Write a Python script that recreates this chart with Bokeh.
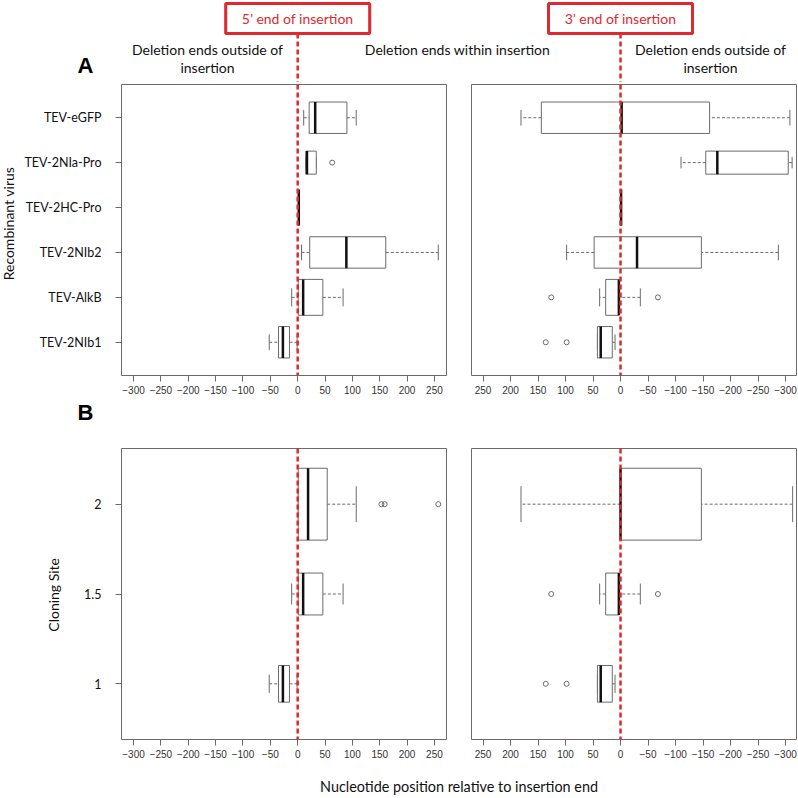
import math
import numpy as np
from bokeh.plotting import figure
from bokeh.layouts import column, row
from bokeh.models import Range1d, FixedTicker, Span, Label, ColumnDataSource, BoxAnnotation
from bokeh.embed import file_html
from bokeh.resources import INLINE

# ---------------- data ----------------
virus_names = ["TEV-2NIb1", "TEV-AlkB", "TEV-2NIb2", "TEV-2HC-Pro", "TEV-2NIa-Pro", "TEV-eGFP"]
virus_pos = [1, 2, 3, 4, 5, 6]
virus_n = [13, 17, 13, 17, 7, 13]

# 5' end panel (A): lower whisker, Q1, median, Q3, upper whisker
a5_lo = [-52, -11, 7, 2, 15, 11]
a5_q1 = [-35, 1, 22, 2, 15, 21]
a5_med = [-27, 10, 89, 2, 17, 32]
a5_q3 = [-15, 46, 161, 2, 34, 90]
a5_hi = [-1, 83, 257, 2, 34, 107]
a5_out_pos = [5]
a5_out_val = [63]

# 3' end panel (A)
a3_lo = [10, -36, -287, -1, -312, -308]
a3_q1 = [15, 3, -147, -1, -305, -162]
a3_med = [36, 3, -30, -1, -176, -2]
a3_q3 = [42, 27, 48, -1, -155, 144]
a3_hi = [42, 38, 98, -1, -110, 181]
a3_out_pos = [1, 1, 2, 2]
a3_out_val = [98, 136, 126, -68]

site_pos = [1, 1.5, 2]
site_labels = ["1", "1.5", "2"]
site_n = [13, 17, 50]

b5_lo = [-52, -11, 1]
b5_q1 = [-35, 1, 1]
b5_med = [-27, 10, 19]
b5_q3 = [-15, 46, 54]
b5_hi = [-1, 83, 107]
b5_out_pos = [2, 2, 2]
b5_out_val = [153, 159, 257]

b3_lo = [10, -36, -313]
b3_q1 = [15, 3, -147]
b3_med = [36, 3, 0]
b3_q3 = [42, 27, 0]
b3_hi = [42, 38, 181]
b3_out_pos = [1, 1, 1.5, 1.5]
b3_out_val = [98, 136, 126, -68]

x_ticks = [-300, -250, -200, -150, -100, -50, 0, 50, 100, 150, 200, 250]

# ---------------- style / layout ----------------
RED = "#e0282e"
GRAY = "#6b6b6b"
TXT_FONT = "Lato"
TICK_FONT = "Liberation Sans"

X5_RANGE = (-322, 272)
X3_RANGE = (271, -320)
YA_RANGE = (0.26, 6.74)
YB_RANGE = (0.69, 2.31)

TOTAL_W = 797
HEADER_H, A_H, GAP_H, B_H, FOOT_H = 82, 316, 27, 340, 32
STRIP_A_W, STRIP_B_W = 18, 65
FRAME_L, FRAME_W = 121, 325
R_W = 339
L_END = TOTAL_W - R_W          # 458
A_BT, A_BB = 2, 23
B_BT, B_BB = 23, 26


def add_boxes(p, pos, lo, q1, med, q3, hi, widths, out_pos, out_val):
    pos = np.array(pos, float)
    w = np.array(widths, float)
    src = ColumnDataSource(dict(
        y=pos, lo=lo, q1=q1, med=med, q3=q3, hi=hi, w=w,
        yb=pos - w / 2, yt=pos + w / 2, cb=pos - w / 4, ct=pos + w / 4))
    p.segment(x0="lo", x1="q1", y0="y", y1="y", source=src, line_color=GRAY,
              line_width=1, line_dash="3 2")
    p.segment(x0="q3", x1="hi", y0="y", y1="y", source=src, line_color=GRAY,
              line_width=1, line_dash="3 2")
    p.segment(x0="lo", x1="lo", y0="cb", y1="ct", source=src, line_color=GRAY, line_width=1)
    p.segment(x0="hi", x1="hi", y0="cb", y1="ct", source=src, line_color=GRAY, line_width=1)
    p.hbar(y="y", left="q1", right="q3", height="w", source=src, fill_color="white",
           line_color=GRAY, line_width=1)
    p.segment(x0="med", x1="med", y0="yb", y1="yt", source=src, line_color="#111111",
              line_width=2.5)
    if out_pos:
        p.scatter(x=out_val, y=out_pos, marker="circle", size=5, fill_color=None,
                  line_color=GRAY, line_width=1)


def make_panel(width, height, xr, yr, bl, br, bt, bb, yticks=None, ylabels=None):
    p = figure(width=width, height=height, x_range=Range1d(*xr), y_range=Range1d(*yr),
               output_backend="svg", toolbar_location=None, tools="",
               min_border_left=bl, min_border_right=br, min_border_top=bt,
               min_border_bottom=bb, background_fill_color="white",
               border_fill_color="white",
               y_axis_location="left" if yticks is not None else None)
    p.grid.visible = False
    p.outline_line_color = GRAY
    p.outline_line_width = 1
    ax = p.xaxis[0]
    ax.ticker = FixedTicker(ticks=x_ticks)
    ax.axis_line_color = None
    ax.major_tick_out = 6
    ax.major_tick_in = 0
    ax.major_tick_line_color = GRAY
    ax.minor_tick_line_color = None
    ax.major_label_text_font = TICK_FONT
    ax.major_label_text_font_size = "10px"
    ax.major_label_text_color = "#333333"
    ax.major_label_standoff = 4
    if yticks is not None:
        ay = p.yaxis[0]
        ay.ticker = FixedTicker(ticks=yticks)
        ay.axis_line_color = None
        ay.minor_tick_line_color = None
        ay.major_tick_line_color = GRAY
        ay.major_tick_in = 0
        ay.major_tick_out = 6
        ay.major_label_overrides = {t: l for t, l in zip(yticks, ylabels)}
        ay.major_label_text_font = TXT_FONT
        ay.major_label_text_font_size = "12.5px"
        ay.major_label_text_color = "#111111"
        ay.major_label_standoff = 14
    p.add_layout(Span(location=0, dimension="height", line_color=RED, line_width=2.5,
                      line_dash="5 3"))
    return p


def free_fig(x0, y0, w, h):
    f = figure(width=w, height=h, x_range=Range1d(x0, x0 + w), y_range=Range1d(y0 + h, y0),
               output_backend="svg", toolbar_location=None, tools="",
               x_axis_type=None, y_axis_type=None, min_border=0, outline_line_color=None,
               background_fill_color="white", border_fill_color="white")
    f.grid.visible = False
    return f


def text(f, x, y, t, size="14px", color="#111111", font=TXT_FONT, style="normal", angle=0):
    f.add_layout(Label(x=x, y=y, text=t, angle=angle, text_align="center",
                       text_baseline="middle", text_font=font, text_font_size=size,
                       text_color=color, text_font_style=style))


wa = [0.8 * math.sqrt(n / max(virus_n)) for n in virus_n]
wb = [0.4 * math.sqrt(n / max(site_n)) for n in site_n]

# page geometry
Y_A = HEADER_H
Y_GAP = Y_A + A_H
Y_B = Y_GAP + GAP_H
Y_F = Y_B + B_H
R_LEFT = L_END + 13

# panel A
pAL = make_panel(L_END - STRIP_A_W, A_H, X5_RANGE, YA_RANGE, FRAME_L - STRIP_A_W,
                 L_END - FRAME_L - FRAME_W, A_BT, A_BB, virus_pos, virus_names)
add_boxes(pAL, virus_pos, a5_lo, a5_q1, a5_med, a5_q3, a5_hi, wa, a5_out_pos, a5_out_val)
pAR = make_panel(R_W, A_H, X3_RANGE, YA_RANGE, 13, R_W - 13 - FRAME_W, A_BT, A_BB)
add_boxes(pAR, virus_pos, a3_lo, a3_q1, a3_med, a3_q3, a3_hi, wa, a3_out_pos, a3_out_val)

# panel B
pBL = make_panel(L_END - STRIP_B_W, B_H, X5_RANGE, YB_RANGE, FRAME_L - STRIP_B_W,
                 L_END - FRAME_L - FRAME_W, B_BT, B_BB, site_pos, site_labels)
add_boxes(pBL, site_pos, b5_lo, b5_q1, b5_med, b5_q3, b5_hi, wb, b5_out_pos, b5_out_val)
pBR = make_panel(R_W, B_H, X3_RANGE, YB_RANGE, 13, R_W - 13 - FRAME_W, B_BT, B_BB)
add_boxes(pBR, site_pos, b3_lo, b3_q1, b3_med, b3_q3, b3_hi, wb, b3_out_pos, b3_out_val)

# y-axis titles in narrow strips
stripA = free_fig(0, Y_A, STRIP_A_W, A_H)
text(stripA, 8, 233, "Recombinant virus", angle=math.pi / 2)
stripB = free_fig(0, Y_B, STRIP_B_W, B_H)
text(stripB, 53, 596, "Cloning Site", angle=math.pi / 2)

# zero positions on page
zero5 = FRAME_L + (0 - X5_RANGE[0]) / (X5_RANGE[1] - X5_RANGE[0]) * FRAME_W
zero3 = R_LEFT + (0 - X3_RANGE[0]) / (X3_RANGE[1] - X3_RANGE[0]) * FRAME_W

# header
hdr = free_fig(0, 0, TOTAL_W, HEADER_H)
box_top, box_bot, box_half = 3, 33, 72
for zx, txt in [(zero5, "5\u2019 end of insertion"), (zero3, "3\u2019 end of insertion")]:
    hdr.segment(x0=[zx], x1=[zx], y0=[box_bot], y1=[HEADER_H + 3], line_color=RED,
                line_width=2.5, line_dash="5 3")
    hdr.add_layout(BoxAnnotation(left=zx - box_half, right=zx + box_half, top=box_top,
                                 bottom=box_bot, fill_color="white", fill_alpha=1,
                                 line_color=RED, line_alpha=1, line_width=3))
    text(hdr, zx, (box_top + box_bot) / 2, txt, color=RED)

for cx, lines in [(207, ["Deletion ends outside of", "insertion"]),
                  (457, ["Deletion ends within insertion"]),
                  (710, ["Deletion ends outside of", "insertion"])]:
    for i, t in enumerate(lines):
        text(hdr, cx, 49 + 18 * i, t)
text(hdr, 85, 65, "A", size="22px", color="#000000", font=TICK_FONT, style="bold")

# gap between panels with letter B
gap = free_fig(0, Y_GAP, TOTAL_W, GAP_H)
text(gap, 85, Y_GAP + GAP_H / 2, "B", size="22px", color="#000000", font=TICK_FONT,
     style="bold")

# footer
ftr = free_fig(0, Y_F, TOTAL_W, FOOT_H)
text(ftr, (FRAME_L + R_LEFT + FRAME_W) / 2, 786,
     "Nucleotide position relative to insertion end", size="14.4px")

layout = column(hdr, row(stripA, pAL, pAR), gap, row(stripB, pBL, pBR), ftr)
open("out.html", "w").write(file_html(layout, INLINE))
